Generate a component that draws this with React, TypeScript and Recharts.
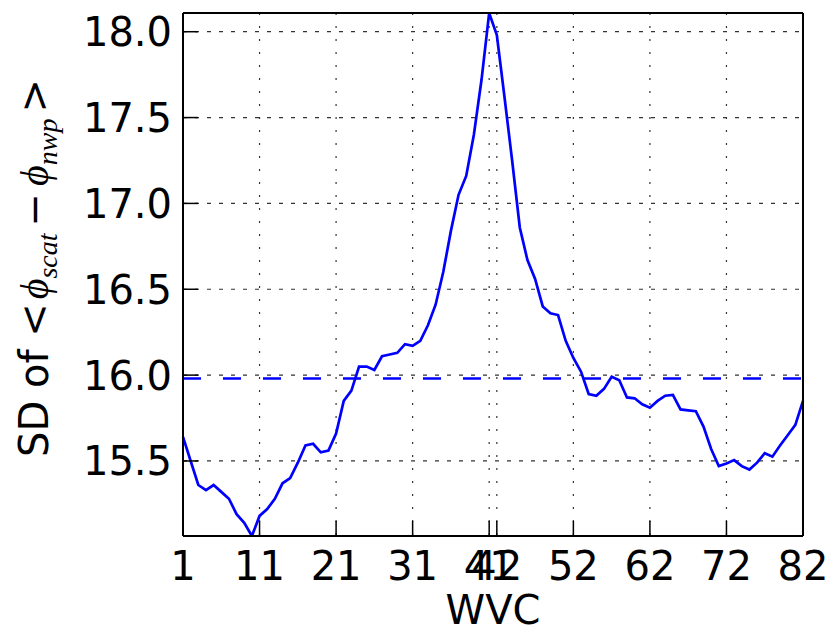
import { LineChart, Line, XAxis, YAxis, CartesianGrid, ReferenceLine } from "recharts";

// Water vapour class index along the x axis
const wvc = Array.from({ length: 82 }, (_, i) => i + 1);

// Standard deviation of <phi_scat - phi_nwp> per WVC
const sdValues = [
  15.64, 15.5, 15.36, 15.33, 15.36, 15.32, 15.28, 15.19, 15.14, 15.063,
  15.18, 15.22, 15.28, 15.37, 15.4, 15.49, 15.59, 15.6, 15.55, 15.56,
  15.66, 15.85, 15.91, 16.05, 16.05, 16.03, 16.11, 16.12, 16.13, 16.18,
  16.17, 16.2, 16.29, 16.41, 16.6, 16.84, 17.05, 17.16, 17.4, 17.72,
  18.109, 17.98, 17.62, 17.25, 16.86, 16.67, 16.56, 16.4, 16.36, 16.35,
  16.2, 16.1, 16.02, 15.89, 15.88, 15.92, 15.99, 15.97, 15.87, 15.865,
  15.83, 15.81, 15.85, 15.88, 15.885, 15.8, 15.795, 15.79, 15.7, 15.57,
  15.47, 15.485, 15.505, 15.47, 15.45, 15.49, 15.545, 15.525, 15.59, 15.65,
  15.71, 15.85,
];

// overall SD drawn as the dashed reference
const meanSd = 15.98;

const xTicks = [1, 11, 21, 31, 41, 42, 52, 62, 72, 82];
const yTicks = [15.5, 16.0, 16.5, 17.0, 17.5, 18.0];

const data = wvc.map((w, i) => ({ wvc: w, sd: sdValues[i] }));
const yMin = Math.min(...sdValues);
const yMax = Math.max(...sdValues);

const FONT = "'DejaVu Sans', sans-serif";
const MATH = "'Liberation Serif', 'DejaVu Serif', serif";
const FS = 40;

const YTick = ({ x, y, payload }: any) => (
  <text x={x} y={y} dy="0.36em" textAnchor="end" fontFamily={FONT} fontSize={FS} fill="#000">
    {Number(payload.value).toFixed(1)}
  </text>
);

const XTick = ({ x, y, payload }: any) => (
  <text x={x} y={y + 44} textAnchor="middle" fontFamily={FONT} fontSize={FS} fill="#000">
    {payload.value}
  </text>
);

const frame = { stroke: "#000", strokeWidth: 2 };
const tickMark = { stroke: "#000", strokeWidth: 1.5 };

export default function App() {
  return (
    <div style={{ position: "absolute", left: 0, top: 0, width: 828, height: 632, background: "#fff" }}>
      <LineChart width={828} height={632} data={data} margin={{ top: 12, right: 24, left: 0, bottom: 0 }}>
        <CartesianGrid vertical={false} stroke="#333" strokeWidth={1.2} strokeDasharray="4 8" />
        <CartesianGrid horizontal={false} stroke="#333" strokeWidth={1.2} strokeDasharray="2 11" />
        <XAxis
          dataKey="wvc"
          type="number"
          domain={[1, 82]}
          ticks={xTicks}
          interval={0}
          height={96}
          axisLine={frame}
          tickLine={tickMark}
          tickSize={-15}
          tickMargin={15}
          tick={<XTick />}
        />
        <XAxis
          xAxisId="top"
          orientation="top"
          dataKey="wvc"
          type="number"
          domain={[1, 82]}
          ticks={xTicks}
          interval={0}
          height={1}
          axisLine={frame}
          tickLine={tickMark}
          tickSize={-15}
          tick={false}
        />
        <YAxis
          type="number"
          domain={[yMin, yMax]}
          ticks={yTicks}
          interval={0}
          width={183}
          allowDataOverflow
          axisLine={frame}
          tickLine={tickMark}
          tickSize={-15}
          tickMargin={26}
          tick={<YTick />}
        />
        <YAxis
          yAxisId="right"
          orientation="right"
          type="number"
          domain={[yMin, yMax]}
          ticks={yTicks}
          interval={0}
          width={1}
          allowDataOverflow
          axisLine={frame}
          tickLine={tickMark}
          tickSize={-15}
          tick={false}
        />
        <ReferenceLine y={meanSd} stroke="#0000ff" strokeWidth={2.6} strokeDasharray="18 22" />
        <Line
          type="linear"
          dataKey="sd"
          stroke="#0000ff"
          strokeWidth={2.7}
          dot={false}
          isAnimationActive={false}
        />
        <text x={493} y={624} textAnchor="middle" fontFamily={FONT} fontSize={FS} fill="#000">
          WVC
        </text>
        <text
          transform="translate(48, 268) rotate(-90)"
          textAnchor="middle"
          fontFamily={FONT}
          fontSize={FS}
          fill="#000"
        >
          <tspan>SD of </tspan>
          <tspan>&lt;</tspan>
          <tspan fontFamily={MATH} fontStyle="italic" dx={4}>ϕ</tspan>
          <tspan fontFamily={MATH} fontStyle="italic" fontSize={28} dy={9}>scat</tspan>
          <tspan dy={-9} dx={7}>−</tspan>
          <tspan fontFamily={MATH} fontStyle="italic" dx={7}>ϕ</tspan>
          <tspan fontFamily={MATH} fontStyle="italic" fontSize={28} dy={9}>nwp</tspan>
          <tspan dy={-9} dx={6}>&gt;</tspan>
        </text>
      </LineChart>
    </div>
  );
}
